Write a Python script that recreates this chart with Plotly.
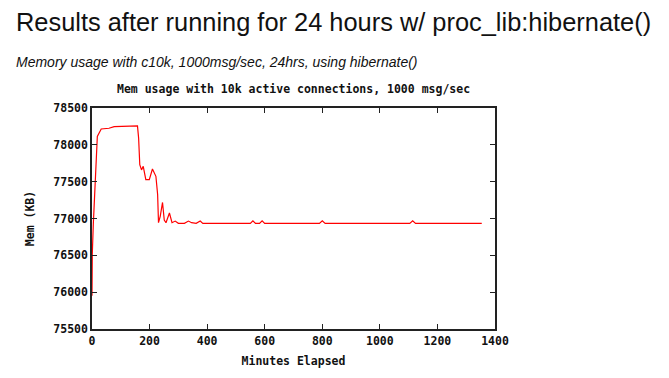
import plotly.graph_objects as go

minutes = [0, 1, 4.5, 10.5, 15, 18.5, 32, 59, 77, 158, 162, 166, 172, 178, 187, 199,
           210, 222, 228, 231, 237, 245, 251, 257, 269, 278, 289, 300, 321, 335, 346,
           362, 376, 385, 550, 559, 568, 582, 591, 600, 790, 800, 810, 1104, 1114, 1124, 1354]
mem_kb = [75950, 76515, 76920, 77420, 77865, 78113, 78215, 78225, 78248, 78257, 78090,
          77730, 77660, 77708, 77528, 77528, 77672, 77573, 77325, 76943, 77030, 77218,
          76980, 76943, 77075, 76943, 76965, 76934, 76934, 76965, 76943, 76934, 76965,
          76934, 76934, 76968, 76934, 76934, 76968, 76934, 76934, 76968, 76934, 76934,
          76968, 76934, 76934]

x_ticks = [0, 200, 400, 600, 800, 1000, 1200, 1400]
y_ticks = [75500, 76000, 76500, 77000, 77500, 78000, 78500]

mono = "DejaVu Sans Mono"
L, R, T, B = 84, 182, 100, 57
PW, PH = 669 - L - R, 378 - T - B

fig = go.Figure()
fig.add_trace(go.Scatter(x=minutes, y=mem_kb, mode="lines",
                         line=dict(color="#ff0000", width=1.2), showlegend=False))

axis_common = dict(
    showgrid=False, zeroline=False, showline=True, linecolor="#222", linewidth=1.5,
    mirror="ticks", ticks="inside", ticklen=5, tickcolor="#222", tickwidth=1,
    tickfont=dict(family=mono, size=11.5, color="#111", weight="bold"),
    automargin=False,
)
fig.update_layout(
    width=669, height=378,
    margin=dict(l=L, r=R, t=T, b=B),
    paper_bgcolor="white", plot_bgcolor="white",
    xaxis=dict(range=[0, 1400], tickvals=x_ticks, ticktext=[str(v) for v in x_ticks],
               title=dict(text="Minutes Elapsed", standoff=10,
                          font=dict(family=mono, size=11.5, color="#111", weight="bold")),
               **axis_common),
    yaxis=dict(range=[75500, 78500], tickvals=y_ticks, ticktext=[str(v) for v in y_ticks],
               title=dict(text="Mem (KB)", standoff=16,
                          font=dict(family=mono, size=11.5, color="#111", weight="bold")),
               **axis_common),
    annotations=[
        dict(text="Results after running for 24 hours w/ proc_lib:hibernate()",
             xref="paper", yref="paper", x=-(L - 6) / PW, y=1 + (T - 14) / PH,
             xanchor="left", yanchor="middle",
             showarrow=False, font=dict(family="Liberation Sans", size=25.4, color="#111")),
        dict(text="<i>Memory usage with c10k, 1000msg/sec, 24hrs, using hibernate()</i>",
             xref="paper", yref="paper", x=-(L - 6) / PW, y=1 + (T - 54) / PH,
             xanchor="left", yanchor="middle",
             showarrow=False, font=dict(family="Liberation Sans", size=14, color="#111")),
        dict(text="Mem usage with 10k active connections, 1000 msg/sec",
             xref="paper", yref="paper", x=0.5, y=1 + (T - 81) / PH,
             xanchor="center", yanchor="middle",
             showarrow=False, font=dict(family=mono, size=11.5, color="#111", weight="bold")),
    ],
)
fig.write_html("out.html")
